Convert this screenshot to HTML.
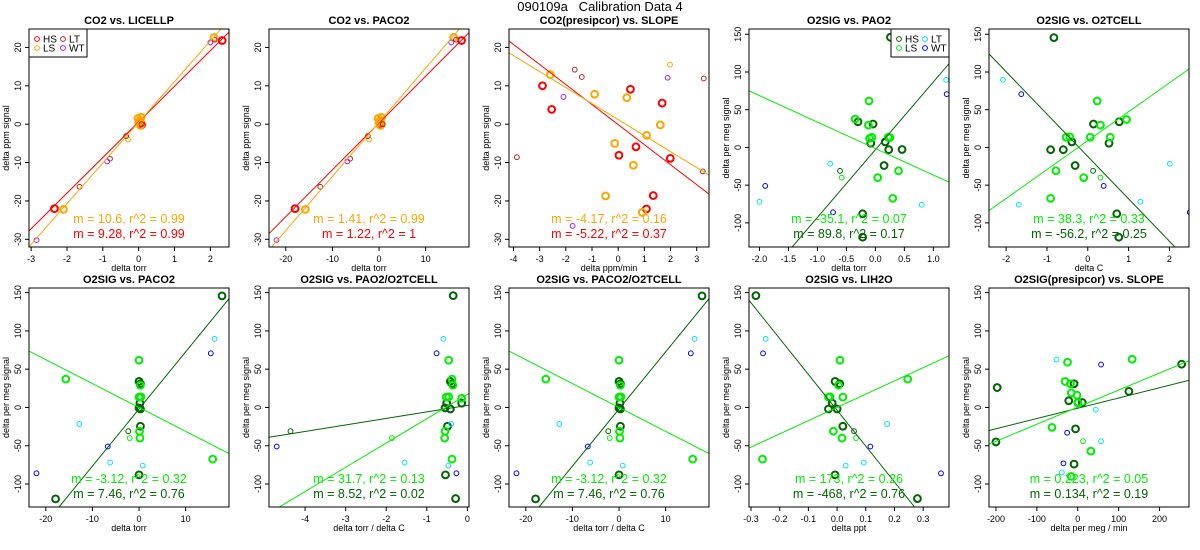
<!DOCTYPE html>
<html><head><meta charset="utf-8">
<style>
html,body{margin:0;padding:0;background:#fff;}
svg{display:block;font-family:"Liberation Sans",Arial,sans-serif;}
</style></head>
<body>
<svg id="chart" width="1200" height="550" viewBox="0 0 1200 550" xmlns="http://www.w3.org/2000/svg">
<text x="600" y="11" text-anchor="middle" font-size="13" style="white-space:pre">090109a   Calibration Data 4</text>
</svg>
<script>
// ---- data (top level) ----
const p1HS=[[-2.35,-22],[2.33,21.8],[0.05,0.3],[0.08,-0.2],[0.03,0.6]];
const p1LS=[[-2.1,-22.2],[2.1,22.6],[-0.02,1.5],[0.07,1.8],[0.05,-0.3],[0.0,0.5],[0.04,0.9]];
const p1LSthin=[[-0.3,-4]];
const p1LT=[[-1.65,-16.3],[-0.35,-3.1],[-0.8,-9],[2.12,22],[0.08,0]];
const p1WT=[[-2.85,-30.2],[-0.88,-9.7],[2.0,21.3]];
const p1Lines=[[9.28,0.6],[10.6,0.5]];

const p2HS=[[-18,-22],[17.7,21.8],[0.2,0.3],[0.4,-0.2],[0.1,0.6]];
const p2LS=[[-15.8,-22.2],[16,22.6],[-0.2,1.5],[0.5,1.8],[0.3,-0.3],[0,0.5],[0.3,0.9]];
const p2LSthin=[[-2.1,-4]];
const p2LT=[[-12.6,-16.3],[-2.4,-3.1],[-6.2,-9],[16.5,22],[0.8,0]];
const p2WT=[[-22,-30.2],[-6.8,-9.7],[15.5,21.3]];
const p2Lines=[[1.22,0.3],[1.41,0.5]];

const p3HS=[[-2.89,10],[-2.54,3.85],[0.47,9.1],[0.68,-5.9],[0.03,-8.1],[1.68,5.5],[1.99,-8.9],[1.34,-18.6],[1.08,-22.1]];
const p3LS=[[-2.59,12.9],[-0.9,7.8],[0.33,6.9],[1.61,-0.2],[1.09,-2.9],[-0.13,-5],[0.58,-10.7],[-0.48,-18.7],[0.92,-23]];
const p3LSthin=[[1.98,15.5]];
const p3LT=[[-1.66,14.2],[-1.39,12.3],[-3.87,-8.6],[3.23,-12.3],[3.27,11.9]];
const p3WT=[[-2.09,7.1],[1.89,12.1],[-1.74,-26.5]];
const p3Lines=[[-5.22,-0.1],[-4.17,1.2]];

const p4HS=[[0.26,146],[-0.30,34],[-0.04,31],[-0.08,5.6],[0.17,7.4],[0.23,-3],[0.46,-2.7],[0.15,-24],[-0.22,-88],[-0.22,-119]];
const p4LS=[[-0.11,61.6],[-0.35,37.5],[-0.12,29.6],[-0.06,13.5],[-0.1,12],[0.22,13.5],[0.25,13],[0.04,-40],[0.40,-31],[0.30,-67.5]];
const p4HSthin=[[-0.61,-31]];
const p4LSthin=[[-0.58,-40]];
const p4LT=[[-0.78,-21.5],[-2.0,-72],[0.80,-76],[1.22,89.6]];
const p4WT=[[-1.9,-51],[-0.73,-86],[1.23,70.7]];
const p4Lines=[[89.8,-3],[-35.1,-1.5]];

const p5HS=[[-0.83,145.6],[-0.91,-3],[-0.60,-3],[-0.39,7.4],[-0.31,-24],[0.14,31],[0.52,5.6],[0.77,34],[0.71,-88],[0.76,-119]];
const p5LS=[[0.23,61.6],[0.31,29.6],[0.95,37],[0.06,13.5],[0.55,13.5],[-0.53,13.5],[-0.44,14],[-0.78,-31],[-0.10,-40],[-0.91,-67.5]];
const p5HSthin=[[0.13,-31]];
const p5LSthin=[[0.31,-40]];
const p5LT=[[-2.08,89.6],[-1.69,-76],[1.29,-72],[2.01,-21.5]];
const p5WT=[[-1.63,70.7],[0.39,-51],[2.5,-86]];
const p5Lines=[[-56.2,-12],[38.3,9]];

const p6HS=[[17.8,145.7],[0,34],[0.3,31],[0.2,5.6],[0,-0.6],[0.3,-2],[0.3,-24.5],[0,-88],[-17.9,-119.4]];
const p6LS=[[0,61.6],[-15.7,37],[0,13.5],[0.4,14],[0.1,-31],[0.2,-40],[15.8,-67.5],[0.3,29]];
const p6HSthin=[[-2.3,-31]];
const p6LSthin=[[-2,-40]];
const p6LT=[[-12.8,-21.5],[-6.2,-72],[0.8,-76],[16.2,89.6]];
const p6WT=[[-22,-86],[-6.7,-51],[15.4,70.7]];
const p6Lines=[[7.46,-2],[-3.12,0]];

const p7HS=[[-0.35,146],[-0.42,34],[-0.38,31],[-0.51,5.6],[-0.55,-0.6],[-0.42,-2],[-0.49,-24.5],[-0.54,-88],[-0.29,-119],[-0.14,5.6]];
const p7LS=[[-0.46,61.6],[-0.38,37],[-0.36,29],[-0.52,13.5],[-0.46,14],[-0.14,12],[-0.55,-31],[-0.56,-40],[-0.38,-67.5]];
const p7HSthin=[[-4.36,-31]];
const p7LSthin=[[-1.86,-40]];
const p7LT=[[-0.59,89.6],[-0.4,-21.5],[-1.55,-72],[-0.47,-76]];
const p7WT=[[-4.7,-51],[-0.76,70.7],[-0.27,-86]];
const p7Lines=[[8.52,2.7],[31.7,17]];

const p9HS=[[-0.283,146],[-0.007,34],[0.009,31],[-0.017,5.6],[-0.03,-2],[0.0,-2],[0.02,-24.5],[-0.007,-88],[0.28,-119]];
const p9LS=[[0.01,61.6],[0.246,37],[0.005,29],[-0.03,13.5],[-0.025,14],[0.02,13.5],[-0.013,-31],[0.017,-40],[-0.26,-67.5]];
const p9HSthin=[[0.059,-31]];
const p9LSthin=[[0.066,-40]];
const p9LT=[[-0.249,89.6],[0.174,-21.5],[0.093,-72],[0.03,-76]];
const p9WT=[[-0.258,70.7],[0.116,-51],[0.362,-86]];
const p9Lines=[[-468,-3.7],[173,0.1]];

const p10HS=[[-197,26],[-22,8.8],[-9,31],[0.5,6.5],[11,6.5],[-5.4,-28],[-9,-74],[125,21],[254,56.5],[-200,-45]];
const p10LS=[[-25,59],[133,63],[-31,34],[-18,31],[-16,19],[-2,16],[0,6],[-63,-26],[32,-57],[-16,-90]];
const p10HSthin=[];
const p10LSthin=[[13,-44]];
const p10LT=[[-52,62.6],[44,-3],[57,-44],[-39,-85]];
const p10WT=[[57,56],[-26,-33],[-35,-73]];
const p10Lines=[[0.134,-1],[0.223,0.4]];

const ticksP1x=[-3,-2,-1,0,1,2];
const ticksCO2y=[-30,-20,-10,0,10,20];
const ticksTorrX=[-20,-10,0,10];
const ticksP3x=[-4,-3,-2,-1,0,1,2,3];
const ticksP4x=[-2.0,-1.5,-1.0,-0.5,0.0,0.5,1.0];
const ticksP5x=[-2,-1,0,1,2];
const ticksO2y=[-100,-50,0,50,100,150];
const ticksP7x=[-4,-3,-2,-1,0];
const ticksP9x=[-0.3,-0.2,-0.1,0.0,0.1,0.2,0.3];
const ticksP10x=[-200,-100,0,100,200];

const statsCO2a=["m = 10.6, r^2 = 0.99","m = 9.28, r^2 = 0.99"];
const statsCO2b=["m = 1.41, r^2 = 0.99","m = 1.22, r^2 = 1"];
const statsCO2c=["m = -4.17, r^2 = 0.16","m = -5.22, r^2 = 0.37"];
const statsO2a=["m = -35.1, r^2 = 0.07","m = 89.8, r^2 = 0.17"];
const statsO2b=["m = 38.3, r^2 = 0.33","m = -56.2, r^2 = 0.25"];
const statsO2c=["m = -3.12, r^2 = 0.32","m = 7.46, r^2 = 0.76"];
const statsO2d=["m = 31.7, r^2 = 0.13","m = 8.52, r^2 = 0.02"];
const statsO2e=["m = 173, r^2 = 0.26","m = -468, r^2 = 0.76"];
const statsO2f=["m = 0.223, r^2 = 0.05","m = 0.134, r^2 = 0.19"];

// ---- rendering ----
const NS="http://www.w3.org/2000/svg";
const svg=document.getElementById('chart');
const RED="#ff0000",ORANGE="#ffa500",BROWN="#a52a2a",PURPLE="#a020f0";
const DG="#006400",LG="#00ee00",CY="#00e5ee",BL="#0000ff";
function mk(tag,attrs,parent){const e=document.createElementNS(NS,tag);for(const k in attrs)e.setAttribute(k,attrs[k]);(parent||svg).appendChild(e);return e;}
function fmt(v,dec){return dec?v.toFixed(dec):String(v);}

const panels=[
 {col:0,row:0,title:"CO2 vs. LICELLP",xd:[-3.06,2.52],yd:[24.8,-32],xt:ticksP1x,yt:ticksCO2y,xl:"delta torr",yl:"delta ppm signal",
  pts:[[p1HS,RED,1],[p1LS,ORANGE,1],[p1LSthin,ORANGE,0],[p1LT,BROWN,0],[p1WT,PURPLE,0]],lines:p1Lines,lc:[RED,ORANGE],st:statsCO2a,sc:[ORANGE,RED],leg:"co2"},
 {col:1,row:0,title:"CO2 vs. PACO2",xd:[-23.6,19.3],yd:[24.8,-32],xt:ticksTorrX,yt:ticksCO2y,xl:"delta torr",yl:"delta ppm signal",
  pts:[[p2HS,RED,1],[p2LS,ORANGE,1],[p2LSthin,ORANGE,0],[p2LT,BROWN,0],[p2WT,PURPLE,0]],lines:p2Lines,lc:[RED,ORANGE],st:statsCO2b,sc:[ORANGE,RED]},
 {col:2,row:0,title:"CO2(presipcor) vs. SLOPE",xd:[-4.17,3.47],yd:[24.8,-32],xt:ticksP3x,yt:ticksCO2y,xl:"delta ppm/min",yl:"delta ppm signal",
  pts:[[p3HS,RED,1],[p3LS,ORANGE,1],[p3LSthin,ORANGE,0],[p3LT,BROWN,0],[p3WT,PURPLE,0]],lines:p3Lines,lc:[RED,ORANGE],st:statsCO2c,sc:[ORANGE,RED]},
 {col:3,row:0,title:"O2SIG vs. PAO2",xd:[-2.18,1.27],yd:[157,-132],xt:ticksP4x,xdec:1,yt:ticksO2y,xl:"delta torr",yl:"delta per meg signal",
  pts:[[p4HS,DG,1],[p4LS,LG,1],[p4HSthin,DG,0],[p4LSthin,LG,0],[p4LT,CY,0],[p4WT,BL,0]],lines:p4Lines,lc:[DG,LG],st:statsO2a,sc:[LG,DG],leg:"o2"},
 {col:4,row:0,title:"O2SIG vs. O2TCELL",xd:[-2.42,2.48],yd:[157,-132],xt:ticksP5x,yt:ticksO2y,xl:"delta C",yl:"delta per meg signal",
  pts:[[p5HS,DG,1],[p5LS,LG,1],[p5HSthin,DG,0],[p5LSthin,LG,0],[p5LT,CY,0],[p5WT,BL,0]],lines:p5Lines,lc:[DG,LG],st:statsO2b,sc:[LG,DG]},
 {col:0,row:1,title:"O2SIG vs. PACO2",xd:[-23.6,19.3],yd:[156,-130],xt:ticksTorrX,yt:ticksO2y,xl:"delta torr",yl:"delta per meg signal",
  pts:[[p6HS,DG,1],[p6LS,LG,1],[p6HSthin,DG,0],[p6LSthin,LG,0],[p6LT,CY,0],[p6WT,BL,0]],lines:p6Lines,lc:[DG,LG],st:statsO2c,sc:[LG,DG]},
 {col:1,row:1,title:"O2SIG vs. PAO2/O2TCELL",xd:[-4.89,0.04],yd:[156,-130],xt:ticksP7x,yt:ticksO2y,xl:"delta torr / delta C",yl:"delta per meg signal",
  pts:[[p7HS,DG,1],[p7LS,LG,1],[p7HSthin,DG,0],[p7LSthin,LG,0],[p7LT,CY,0],[p7WT,BL,0]],lines:p7Lines,lc:[DG,LG],st:statsO2d,sc:[LG,DG]},
 {col:2,row:1,title:"O2SIG vs. PACO2/O2TCELL",xd:[-23.6,19.3],yd:[156,-130],xt:ticksTorrX,yt:ticksO2y,xl:"delta torr / delta C",yl:"delta per meg signal",
  pts:[[p6HS,DG,1],[p6LS,LG,1],[p6HSthin,DG,0],[p6LSthin,LG,0],[p6LT,CY,0],[p6WT,BL,0]],lines:p6Lines,lc:[DG,LG],st:statsO2c,sc:[LG,DG]},
 {col:3,row:1,title:"O2SIG vs. LIH2O",xd:[-0.307,0.39],yd:[156,-130],xt:ticksP9x,xdec:1,yt:ticksO2y,xl:"delta ppt",yl:"delta per meg signal",
  pts:[[p9HS,DG,1],[p9LS,LG,1],[p9HSthin,DG,0],[p9LSthin,LG,0],[p9LT,CY,0],[p9WT,BL,0]],lines:p9Lines,lc:[DG,LG],st:statsO2e,sc:[LG,DG]},
 {col:4,row:1,title:"O2SIG(presipcor) vs. SLOPE",xd:[-217,272],yd:[156,-130],xt:ticksP10x,yt:ticksO2y,xl:"delta per meg / min",yl:"delta per meg signal",
  pts:[[p10HS,DG,1],[p10LS,LG,1],[p10HSthin,DG,0],[p10LSthin,LG,0],[p10LT,CY,0],[p10WT,BL,0]],lines:p10Lines,lc:[DG,LG],st:statsO2f,sc:[LG,DG]}
];

const defs=mk('defs',{});
panels.forEach((p,i)=>{
  const L=29+240*p.col, R=L+200, T=p.row?288:29, B=p.row?507:247;
  const sx=v=>L+(v-p.xd[0])/(p.xd[1]-p.xd[0])*(R-L);
  const sy=v=>T+(p.yd[0]-v)/(p.yd[0]-p.yd[1])*(B-T);
  const g=mk('g',{});
  
  
  const cp=mk('clipPath',{id:'c'+i},defs);mk('rect',{x:L,y:T,width:R-L,height:B-T},cp);
  const tt=mk('text',{x:(L+R)/2,y:T-5,'text-anchor':'middle','font-size':'11','font-weight':'bold'},g);tt.textContent=p.title;
  
  
  p.xt.forEach(v=>{const x=sx(v);mk('line',{x1:x,x2:x,y1:B,y2:B+4,stroke:'#000','stroke-width':1},g);
    const t=mk('text',{x:x,y:B+15,'text-anchor':'middle','font-size':'9'},g);t.textContent=fmt(v,p.xdec);
    
    });
  p.yt.forEach(v=>{const y=sy(v);mk('line',{x1:L-4,x2:L,y1:y,y2:y,stroke:'#000','stroke-width':1},g);
    const t=mk('text',{x:L-8,y:y,'text-anchor':'middle','font-size':'9',transform:'rotate(-90 '+(L-8)+' '+y+')'},g);t.textContent=String(v);
    
    });
  const xl=mk('text',{x:(L+R)/2,y:B+24,'text-anchor':'middle','font-size':'9'},g);xl.textContent=p.xl;
  
  
  const yx=L-20,yy=(T+B)/2;
  const yl=mk('text',{x:yx,y:yy,'text-anchor':'middle','font-size':'9',transform:'rotate(-90 '+yx+' '+yy+')'},g);yl.textContent=p.yl;
  
  
  const cg=mk('g',{'clip-path':'url(#c'+i+')'},g);
  p.pts.forEach(s=>{s[0].forEach(d=>{const c=mk('circle',{cx:sx(d[0]),cy:sy(d[1]),r:s[2]?3.4:2.4,fill:'none',stroke:s[1],'stroke-width':s[2]?2:1},cg);
    
    });});
  p.lines.forEach((ln,k)=>{const x0=p.xd[0],x1=p.xd[1];
    const l=mk('line',{x1:sx(x0),y1:sy(ln[0]*x0+ln[1]),x2:sx(x1),y2:sy(ln[0]*x1+ln[1]),stroke:p.lc[k],'stroke-width':1},cg);
    
    });
  mk('rect',{x:L,y:T,width:R-L,height:B-T,fill:'none',stroke:'#000','stroke-width':1},g);
  p.st.forEach((s,k)=>{const t=mk('text',{x:(L+R)/2,y:B-(k?9:24),'text-anchor':'middle','font-size':'12.5',fill:p.sc[k]},g);t.textContent=s;
    
    });
  if(p.leg){
    const lg=mk('g',{},g);
    
    
    const lw=58,lh=28, lx=p.leg==='co2'?L:R-lw, ly=T;
    mk('rect',{x:lx,y:ly,width:lw,height:lh,fill:'#fff',stroke:'#000','stroke-width':1},lg);
    const names=["HS","LS","LT","WT"];
    const cols=p.leg==='co2'?[RED,ORANGE,BROWN,PURPLE]:[DG,LG,CY,BL];
    names.forEach((n,k)=>{const cx=lx+8+(k>1?26:0),cy=ly+10+(k%2)*9;
      mk('circle',{cx:cx,cy:cy,r:2.4,fill:'none',stroke:cols[k],'stroke-width':1},lg);
      const t=mk('text',{x:cx+6,y:cy+3.5,'font-size':'10'},lg);t.textContent=n;
      
      });
  }
});
</script>
</body></html>
